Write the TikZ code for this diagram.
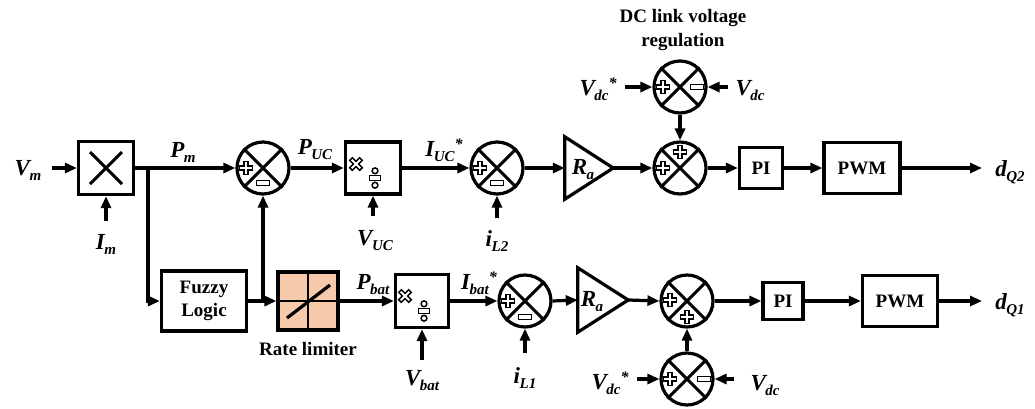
\documentclass[tikz,border=0pt]{standalone}
\usepackage{fontspec}
\setmainfont{Liberation Serif}
\usetikzlibrary{arrows.meta}
\definecolor{peach}{HTML}{F6C9AB}
\newcommand\lbl[2]{#1\kern-0.5pt\raisebox{-0.22em}{\fontsize{15}{15}\selectfont #2}}
\newcommand\lbs[2]{#1\kern-0.5pt\raisebox{-0.22em}{\fontsize{15}{15}\selectfont #2}\raisebox{0.3em}{\fontsize{16}{16}\selectfont *}}
\tikzset{
  x=1pt, y=-1pt,
  ln/.style={line width=3.2pt},
  arr/.style={ln, -{Triangle[length=12pt,width=10pt]}},
  sumnode/.style={circle, draw, line width=3.2pt, minimum size=52pt, inner sep=0pt},
  blk/.style={rectangle, draw, line width=3.2pt, inner sep=0pt, font=\fontsize{19}{21}\selectfont\bfseries},
  var/.style={font=\fontsize{23}{26}\selectfont\bfseries\itshape, inner sep=0pt},
  txt/.style={font=\fontsize{19}{23}\selectfont\bfseries, inner sep=0pt, align=center},
  plus/.pic={
    \draw[line width=5.4pt] (-7.3,0)--(7.3,0) (0,-7.3)--(0,7.3);
    \draw[line width=2.1pt, white] (-5.8,0)--(5.8,0) (0,-5.8)--(0,5.8);
  },
  minus/.pic={
    \draw[line width=1.6pt, fill=white] (-6.5,-2.6) rectangle (6.5,2.6);
  },
  times/.pic={
    \draw[line width=5pt] (-5.5,-5.5)--(5.5,5.5) (-5.5,5.5)--(5.5,-5.5);
    \draw[line width=1.8pt, white] (-4.3,-4.3)--(4.3,4.3) (-4.3,4.3)--(4.3,-4.3);
  },
  divsym/.pic={
    \draw[line width=1.5pt, fill=white] (-5.5,-2.3) rectangle (5.5,2.3);
    \draw[line width=1.5pt, fill=white] (0,-7.2) circle (2.9pt);
    \draw[line width=1.5pt, fill=white] (0,7.2) circle (2.9pt);
  }
}
\newcommand\crossin[1]{\draw[line width=3pt] (#1.north east)--(#1.south west) (#1.north west)--(#1.south east);}
\begin{document}
\begin{tikzpicture}
\useasboundingbox (0,0) rectangle (1035,408);
% ---------- top row ----------
\node[blk, minimum width=55pt, minimum height=53pt] (mul) at (106,168) {};
\draw[line width=3pt] (90,152) -- (122,184) (122,152) -- (90,184);
\node[var] (Vm) at (28,170) {\lbl{V}{m}};
\coordinate (vmin) at (52,168);
\draw[arr] (vmin) -- (mul.west);
\coordinate (imin) at (106,221);
\draw[arr] (imin) -- (mul.south);
\node[var] (Im) at (106,244) {\lbl{I}{m}};

\node[sumnode] (s1) at (263,168) {};
\crossin{s1}
\pic at (246,168) {plus};
\pic at (263,183) {minus};
\coordinate (b1) at (148,168);
\draw[arr] (mul.east) -- (s1.west);
\node[var] (Pm) at (183,152) {\lbl{P}{m}};
\node[var] (Puc) at (315,150) {\lbl{P}{UC}};

\node[blk, minimum width=55pt, minimum height=52pt] (d1) at (373,168) {};
\pic at (356,164) {times};
\pic at (375,178) {divsym};
\draw[arr] (s1.east) -- (d1.west);
\coordinate (vucin) at (373,216);
\draw[arr] (vucin) -- (d1.south);
\node[var] (Vuc) at (375,241) {\lbl{V}{UC}};
\node[var] (Iucs) at (444,150) {\lbs{I}{UC}};

\node[sumnode] (s2) at (497,168) {};
\crossin{s2}
\pic at (480,168) {plus};
\pic at (497,183) {minus};
\draw[arr] (d1.east) -- (s2.west);
\coordinate (il2in) at (497,218);
\draw[arr] (il2in) -- (s2.south);
\node[var] (iL2) at (497,241) {\lbl{i}{L2}};

\node[minimum width=48pt, minimum height=62pt, inner sep=0pt] (Ra1) at (589,168) {};
\draw[ln, line join=miter] (Ra1.north west) -- (Ra1.east) -- (Ra1.south west) -- cycle;
\node[var] at (583,170) {\lbl{R}{a}};
\draw[arr] (s2.east) -- (Ra1.west);

\node[sumnode] (s3) at (680,168) {};
\crossin{s3}
\pic at (663,168) {plus};
\pic at (680,152) {plus};
\draw[arr] (Ra1.east) -- (s3.west);

\node[sumnode] (dc1) at (680,87) {};
\crossin{dc1}
\pic at (663,87) {plus};
\pic at (697,87) {minus};
\draw[arr] (dc1.south) -- (s3.north);
\coordinate (vdcs1) at (625,87);
\coordinate (vdc1) at (728,87);
\draw[arr] (vdcs1) -- (dc1.west);
\draw[arr] (vdc1) -- (dc1.east);
\node[var] (Vdcs1) at (598,89) {\lbs{V}{dc}};
\node[var] (Vdc1) at (750,91) {\lbl{V}{dc}};
\node[txt] (dctitle) at (683,30) {DC link voltage\\[1pt]regulation};

\node[blk, minimum width=43pt, minimum height=41pt] (pi1) at (761,168) {PI};
\node[blk, minimum width=76pt, minimum height=51pt] (pwm1) at (862,168) {PWM};
\draw[arr] (s3.east) -- (pi1.west);
\draw[arr] (pi1.east) -- (pwm1.west);
\coordinate (o1) at (982,168);
\draw[arr] (pwm1.east) -- (o1);
\node[var] (dq2) at (1010,172) {\lbl{d}{Q2}};

% ---------- bottom row ----------
\node[blk, minimum width=85pt, minimum height=60pt] (fz) at (204,301) {};
\node[txt] at (fz) {Fuzzy\\[0pt]Logic};
\draw[arr] (b1) |- (fz.west);

\node[rectangle, draw, fill=peach, line width=3.2pt, minimum width=60pt, minimum height=58pt, inner sep=0pt] (rl) at (308,301) {};
\draw[line width=2.2pt] (rl.north) -- (rl.south) (rl.west) -- (rl.east);
\draw[line width=3.2pt] (287,318) -- (330,285);
\node[txt] (rltxt) at (308,349) {Rate limiter};
\draw[arr] (fz.east) -- (rl.west);
\coordinate (b2) at (263,301);
\draw[arr] (b2) -- (s1.south);

\node[blk, minimum width=53pt, minimum height=53pt] (d2) at (422,301) {};
\pic at (405,296) {times};
\pic at (424,311) {divsym};
\draw[arr] (rl.east) -- (d2.west);
\node[var] (Pbat) at (373,285) {\lbl{P}{bat}};
\coordinate (vbatin) at (422,360);
\draw[arr] (vbatin) -- (d2.south);
\node[var] (Vbat) at (422,381) {\lbl{V}{bat}};
\node[var] (Ibats) at (479,283) {\lbs{I}{bat}};

\node[sumnode] (s4) at (525,301) {};
\crossin{s4}
\pic at (508,301) {plus};
\pic at (525,317) {minus};
\draw[arr] (d2.east) -- (s4.west);
\coordinate (il1in) at (525,353);
\draw[arr] (il1in) -- (s4.south);
\node[var] (iL1) at (525,378) {\lbl{i}{L1}};

\node[minimum width=50pt, minimum height=64pt, inner sep=0pt] (Ra2) at (603,300) {};
\draw[ln, line join=miter] (Ra2.north west) -- (Ra2.east) -- (Ra2.south west) -- cycle;
\node[var] at (592,302) {\lbl{R}{a}};
\draw[arr] (s4.east) -- (Ra2.west);

\node[sumnode] (s5) at (687,301) {};
\crossin{s5}
\pic at (670,300) {plus};
\pic at (687,317) {plus};
\draw[arr] (Ra2.east) -- (s5.west);

\node[sumnode] (dc2) at (687,379) {};
\crossin{dc2}
\pic at (670,379) {plus};
\pic at (704,379) {minus};
\draw[arr] (dc2.north) -- (s5.south);
\coordinate (vdcs2) at (637,379);
\coordinate (vdc2) at (734,379);
\draw[arr] (vdcs2) -- (dc2.west);
\draw[arr] (vdc2) -- (dc2.east);
\node[var] (Vdcs2) at (610,383) {\lbs{V}{dc}};
\node[var] (Vdc2) at (765,386) {\lbl{V}{dc}};

\node[blk, minimum width=40pt, minimum height=37pt] (pi2) at (783,301) {PI};
\node[blk, minimum width=75pt, minimum height=51pt] (pwm2) at (900,301) {PWM};
\draw[arr] (s5.east) -- (pi2.west);
\draw[arr] (pi2.east) -- (pwm2.west);
\coordinate (o2) at (982,301);
\draw[arr] (pwm2.east) -- (o2);
\node[var] (dq1) at (1010,305) {\lbl{d}{Q1}};
\end{tikzpicture}
\end{document}
